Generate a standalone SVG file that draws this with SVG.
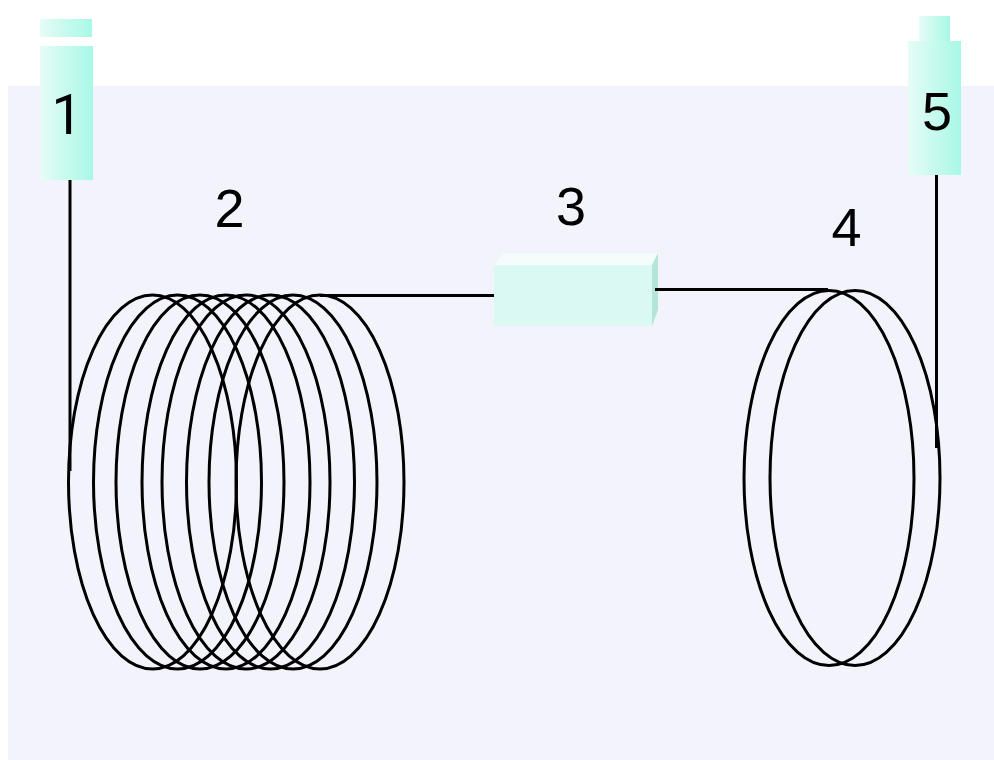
<svg xmlns="http://www.w3.org/2000/svg" width="994" height="760" viewBox="0 0 994 760">
<style>
.w{fill:none;stroke:#000;stroke-width:3}
.l{fill:none;stroke:#000;stroke-width:3}
.n{font-family:"Liberation Sans",Arial,sans-serif;font-size:54px;fill:#000;text-anchor:middle}
.r{font-family:Roboto,Arial,sans-serif;font-size:55px}
</style>
<defs>
<linearGradient id="g"><stop offset="0" stop-color="#e6fcf7"/><stop offset="1" stop-color="#a8f8e6"/></linearGradient>
</defs>
<rect x="8" y="86" width="986" height="674" fill="#f3f3fc"/>
<g id="node1"><rect x="40" y="19" width="52" height="18" fill="url(#g)"/><rect x="40" y="46" width="53" height="134" fill="url(#g)"/><text class="n r" x="67" y="134">1</text></g>
<g id="node2">
<ellipse class="w" cx="152.500" cy="482" rx="84" ry="187"/><ellipse class="w" cx="177.500" cy="482" rx="84" ry="187"/><ellipse class="w" cx="200" cy="482" rx="84" ry="187"/><ellipse class="w" cx="226" cy="482" rx="84" ry="187"/><ellipse class="w" cx="246" cy="482" rx="84" ry="187"/><ellipse class="w" cx="270.500" cy="482" rx="84" ry="187"/><ellipse class="w" cx="293" cy="482" rx="84" ry="187"/><ellipse class="w" cx="320" cy="482" rx="84" ry="187"/>
<text class="n" x="229.500" y="226.500">2</text></g>
<g id="node3"><rect x="494" y="265" width="158" height="61" fill="#daf9f3"/><polygon points="494,265 504,253 658,253 652,265" fill="#f3fdfb"/><polygon points="652,265 658,253 658,310 652,326" fill="#b3e5d9"/><text class="n" x="571" y="224.500">3</text></g>
<g id="node4"><ellipse class="w" cx="829" cy="478" rx="85" ry="187.500"/><ellipse class="w" cx="855" cy="478" rx="85" ry="187.500"/><text class="n" x="846.500" y="245.500">4</text></g>
<g id="node5"><rect x="919" y="16" width="31" height="25" fill="url(#g)"/><rect x="908" y="41" width="53" height="134" fill="url(#g)"/><text class="n" x="937" y="130">5</text></g>
<g id="connectors">
<path class="l" d="M70 180V471M936.500 175V448M320 295.500H494M655 289.500H828"/>
</g>
</svg>
